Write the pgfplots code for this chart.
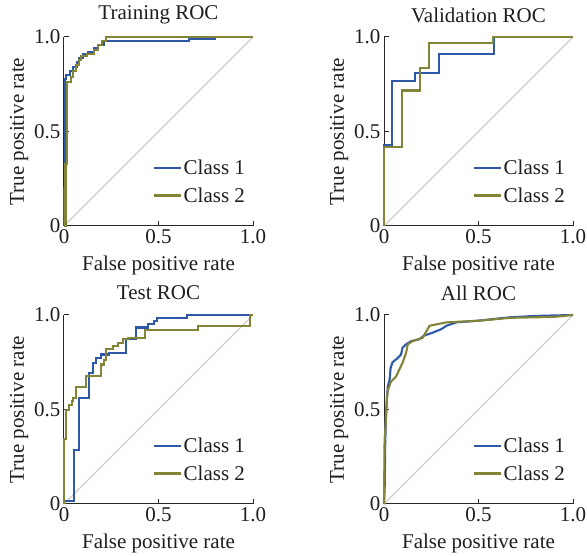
\documentclass[border=0pt]{standalone}
\usepackage{pgfplots}
\pgfplotsset{compat=1.18}
\usepackage{fontspec}
\setmainfont{Liberation Serif}
\newcommand\ff{\fontsize{21}{25}\selectfont}
\definecolor{blueC}{RGB}{46,88,168}
\definecolor{oliveC}{RGB}{132,132,56}
\definecolor{diagC}{RGB}{205,205,205}
\definecolor{axisC}{RGB}{40,40,40}
\definecolor{txtC}{RGB}{30,30,30}
\pgfplotsset{rocax/.style={
  scale only axis, width=189pt, height=189pt,
  xmin=0, xmax=1, ymin=0, ymax=1,
  axis lines*=left, xtick pos=bottom, ytick pos=left,
  axis line style={line width=1pt, color=axisC},
  tick align=inside, major tick length=5pt,
  tick style={line width=1pt, color=axisC},
  xtick={0,0.5,1}, ytick={0,0.5,1},
  xticklabels={0,0.5,1.0}, yticklabels={0,0.5,1.0},
  ticklabel style={font=\ff, text=txtC},
  label style={font=\ff, text=txtC},
  xlabel={False positive rate}, ylabel={True positive rate},
  xlabel style={at={(axis description cs:0.5,-0.21)}, anchor=center},
  ylabel style={at={(axis description cs:-0.237,0.5)}, anchor=center},
  title style={at={(axis description cs:0.5,1.085)}, anchor=center, font=\ff, text=txtC},
  clip=false,
  legend style={at={(axis description cs:0.47,0.11)}, anchor=south west,
    draw=none, fill=none, inner sep=0pt, font=\ff, text=txtC, row sep=8pt,
    nodes={inner sep=1.5pt}},
  legend cell align=left,
  legend image code/.code={\draw[##1,line width=2.2pt] (0pt,0pt) -- (27pt,0pt);},
}}
\tikzset{cb/.style={blueC, line width=2.1pt}, co/.style={oliveC, line width=2.1pt},
  dg/.style={diagC, line width=1.2pt}}
\begin{document}
\begin{tikzpicture}
\path[use as bounding box] (0,0) rectangle (587pt,556pt);
% Training
\begin{axis}[rocax, at={(64pt,330pt)}, anchor=south west, title={Training ROC}]
\addplot[dg, forget plot] coordinates {(0,0)(1,1)};
\addplot[cb] coordinates {(0,0)(0,0.2)(0.005,0.2)(0.005,0.78)(0.012,0.78)(0.012,0.80)(0.03,0.80)(0.03,0.82)(0.05,0.82)(0.05,0.84)(0.07,0.84)(0.07,0.87)(0.08,0.87)(0.08,0.89)(0.1,0.89)(0.1,0.91)(0.125,0.91)(0.125,0.92)(0.16,0.92)(0.16,0.94)(0.18,0.94)(0.18,0.96)(0.21,0.96)(0.21,0.98)(0.66,0.98)(0.66,0.99)(0.8,0.99)(0.8,1)(1,1)};
\addplot[co] coordinates {(0,0)(0.008,0)(0.008,0.33)(0.018,0.33)(0.018,0.76)(0.035,0.76)(0.035,0.79)(0.05,0.79)(0.05,0.82)(0.065,0.82)(0.065,0.85)(0.08,0.85)(0.08,0.88)(0.09,0.88)(0.09,0.90)(0.12,0.90)(0.12,0.91)(0.16,0.91)(0.16,0.93)(0.18,0.93)(0.18,0.96)(0.2,0.96)(0.2,0.98)(0.22,0.98)(0.22,1)(1,1)};
\legend{Class 1, Class 2}
\end{axis}
% Validation
\begin{axis}[rocax, at={(384pt,330pt)}, anchor=south west, title={Validation ROC}]
\addplot[dg, forget plot] coordinates {(0,0)(1,1)};
\addplot[cb] coordinates {(0,0)(0,0.43)(0.04,0.43)(0.04,0.766)(0.165,0.766)(0.165,0.81)(0.29,0.81)(0.29,0.908)(0.584,0.908)(0.584,1)(1,1)};
\addplot[co] coordinates {(0,0)(0,0.42)(0.097,0.42)(0.097,0.717)(0.19,0.717)(0.19,0.837)(0.239,0.837)(0.239,0.966)(0.575,0.966)(0.575,1)(1,1)};
\legend{Class 1, Class 2}
\end{axis}
% Test
\begin{axis}[rocax, at={(64pt,52pt)}, anchor=south west, title={Test ROC}]
\addplot[dg, forget plot] coordinates {(0,0)(1,1)};
\addplot[cb] coordinates {(0,0)(0,0.015)(0.055,0.015)(0.055,0.286)(0.081,0.286)(0.081,0.56)(0.13,0.56)(0.13,0.693)(0.152,0.693)(0.152,0.747)(0.17,0.747)(0.17,0.773)(0.197,0.773)(0.197,0.791)(0.24,0.791)(0.24,0.80)(0.33,0.80)(0.33,0.875)(0.379,0.875)(0.379,0.934)(0.445,0.934)(0.445,0.952)(0.474,0.952)(0.474,0.97)(0.49,0.97)(0.49,0.984)(0.649,0.984)(0.649,1)(1,1)};
\addplot[co] coordinates {(0,0)(0,0.345)(0.01,0.345)(0.01,0.497)(0.025,0.497)(0.025,0.523)(0.04,0.523)(0.04,0.545)(0.05,0.545)(0.05,0.56)(0.064,0.56)(0.064,0.62)(0.117,0.62)(0.117,0.675)(0.197,0.675)(0.197,0.738)(0.214,0.738)(0.214,0.764)(0.223,0.764)(0.223,0.818)(0.259,0.818)(0.259,0.836)(0.285,0.836)(0.285,0.854)(0.312,0.854)(0.312,0.871)(0.338,0.871)(0.338,0.88)(0.427,0.88)(0.427,0.92)(0.71,0.92)(0.71,0.94)(0.985,0.94)(0.985,1)(1,1)};
\legend{Class 1, Class 2}
\end{axis}
% All
\begin{axis}[rocax, at={(384pt,52pt)}, anchor=south west, title={All ROC}]
\addplot[dg, forget plot] coordinates {(0,0)(1,1)};
\addplot[cb] coordinates {(0,0)(0.004,0.1)(0.006,0.3)(0.01,0.45)(0.015,0.55)(0.02,0.62)(0.03,0.66)(0.035,0.72)(0.045,0.75)(0.07,0.77)(0.09,0.79)(0.098,0.827)(0.117,0.845)(0.144,0.862)(0.186,0.871)(0.21,0.89)(0.259,0.907)(0.303,0.925)(0.33,0.943)(0.383,0.961)(0.5,0.97)(0.667,0.988)(0.8,0.995)(1,1)};
\addplot[co] coordinates {(0,0)(0.003,0.33)(0.01,0.45)(0.015,0.55)(0.02,0.6)(0.037,0.648)(0.064,0.675)(0.081,0.711)(0.098,0.747)(0.117,0.80)(0.126,0.845)(0.152,0.862)(0.205,0.88)(0.241,0.943)(0.33,0.961)(0.507,0.97)(0.667,0.985)(0.9,0.99)(1,1)};
\legend{Class 1, Class 2}
\end{axis}
\end{tikzpicture}
\end{document}
